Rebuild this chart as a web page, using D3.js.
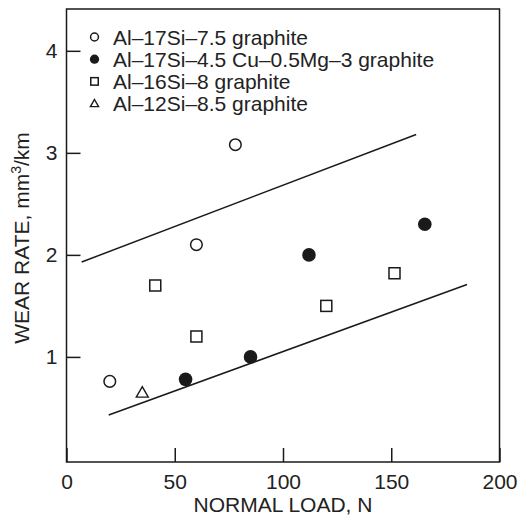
<!DOCTYPE html>
<html><head><meta charset="utf-8">
<script src="https://cdn.jsdelivr.net/npm/d3@7"></script>
<style>
body{margin:0;background:#fff;}
text{font-family:"Liberation Sans",Arial,sans-serif;fill:#222;}
</style></head>
<body>
<svg id="c" width="519" height="521"></svg>
<script>
const seriesNames = ["Al\u201317Si\u20137.5 graphite","Al\u201317Si\u20134.5 Cu\u20130.5Mg\u20133 graphite","Al\u201316Si\u20138 graphite","Al\u201312Si\u20138.5 graphite"];
const seriesSymbols = ["openCircle","filledCircle","openSquare","openTriangle"];
const openCircleLoad = [20, 60, 78];
const openCircleWear = [0.76, 2.1, 3.08];
const filledCircleLoad = [55, 85, 112, 165.5];
const filledCircleWear = [0.78, 1.0, 2.0, 2.3];
const squareLoad = [41, 60, 120, 151.5];
const squareWear = [1.7, 1.2, 1.5, 1.82];
const triangleLoad = [35];
const triangleWear = [0.65];
const upperBandLoad = [7, 161.5];
const upperBandWear = [1.93, 3.18];
const lowerBandLoad = [19.5, 185];
const lowerBandWear = [0.43, 1.71];
const xTicks = [0, 50, 100, 150, 200];
const yTicks = [1, 2, 3, 4];
const xLabel = "NORMAL LOAD, N";

const svg = d3.select("#c");
const L = 66.5, R = 499.5, T = 9, B = 462;
const x = d3.scaleLinear().domain([0, 200]).range([L, R]);
const y = d3.scaleLinear().domain([-0.03, 4.41]).range([B, T]);
const ink = "#1a1a1a";

svg.append("rect").attr("x", L).attr("y", T).attr("width", R - L).attr("height", B - T)
  .attr("fill", "none").attr("stroke", ink).attr("stroke-width", 1.5);

const xa = svg.append("g").attr("transform", `translate(0,${B})`)
  .call(d3.axisBottom(x).tickValues(xTicks).tickSize(-14).tickPadding(12).tickFormat(d3.format("d")));
xa.select(".domain").remove();
xa.selectAll("line").attr("stroke", ink).attr("stroke-width", 1.5);
xa.selectAll("text").attr("font-size", 21).attr("fill", ink).style("font-family", '"Liberation Sans",Arial,sans-serif');

const ya = svg.append("g").attr("transform", `translate(${L},0)`)
  .call(d3.axisLeft(y).tickValues(yTicks).tickSize(-14).tickPadding(9).tickFormat(d3.format("d")));
ya.select(".domain").remove();
ya.selectAll("line").attr("stroke", ink).attr("stroke-width", 1.5);
ya.selectAll("text").attr("font-size", 21).attr("fill", ink).style("font-family", '"Liberation Sans",Arial,sans-serif');

svg.append("text").attr("x", (L + R) / 2).attr("y", 512).attr("text-anchor", "middle")
  .attr("font-size", 21).text(xLabel);

const yl = svg.append("text").attr("transform", `translate(29,238) rotate(-90)`)
  .attr("text-anchor", "middle").attr("font-size", 21);
yl.append("tspan").text("WEAR RATE, mm");
yl.append("tspan").attr("dy", -8).attr("font-size", 14).text("3");
yl.append("tspan").attr("dy", 8).text("/km");

const line = d3.line().x(d => x(d[0])).y(d => y(d[1]));
[[upperBandLoad, upperBandWear], [lowerBandLoad, lowerBandWear]].forEach(([lx, ly]) => {
  svg.append("path").datum(lx.map((v, i) => [v, ly[i]])).attr("d", line)
    .attr("fill", "none").attr("stroke", ink).attr("stroke-width", 1.5);
});

function marker(g, type, cx, cy, s) {
  if (type === "openCircle") {
    g.append("circle").attr("cx", cx).attr("cy", cy).attr("r", 5.8 * s)
      .attr("fill", "#fff").attr("stroke", ink).attr("stroke-width", 1.5);
  } else if (type === "filledCircle") {
    g.append("circle").attr("cx", cx).attr("cy", cy).attr("r", 6.8 * s).attr("fill", ink);
  } else if (type === "openSquare") {
    const h = 5.5 * s;
    g.append("rect").attr("x", cx - h).attr("y", cy - h).attr("width", 2 * h).attr("height", 2 * h)
      .attr("fill", "#fff").attr("stroke", ink).attr("stroke-width", 1.5);
  } else {
    const h = 6 * s;
    g.append("path").attr("d", `M${cx},${cy - h}L${cx + h},${cy + h * 0.75}L${cx - h},${cy + h * 0.75}Z`)
      .attr("fill", "#fff").attr("stroke", ink).attr("stroke-width", 1.4);
  }
}
const pts = svg.append("g");
const sets = [[openCircleLoad, openCircleWear], [filledCircleLoad, filledCircleWear], [squareLoad, squareWear], [triangleLoad, triangleWear]];
sets.forEach(([lx, ly], si) => lx.forEach((v, i) => marker(pts, seriesSymbols[si], x(v), y(ly[i]), 1)));

const lg = svg.append("g");
seriesNames.forEach((n, i) => {
  const cy = 37 + i * 22.2;
  marker(lg, seriesSymbols[i], 94.5, cy, 0.68);
  lg.append("text").attr("x", 113).attr("y", cy + 7.5).attr("font-size", 21).text(n);
});
</script>
</body></html>
